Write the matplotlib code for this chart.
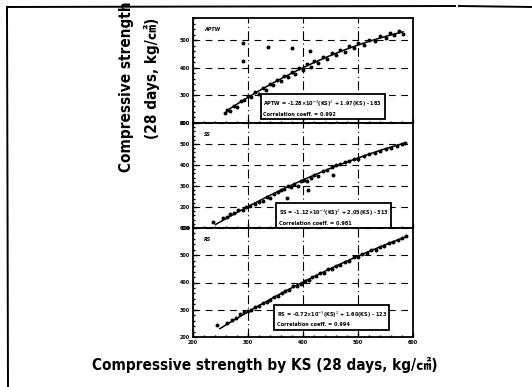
import numpy as np
import matplotlib.pyplot as plt
from matplotlib.lines import Line2D

# ---- data: 28-day strength by KS method vs. other test methods ----
ks_ticks = [200, 300, 400, 500, 600]

aptw_ks = [258, 262, 268, 275, 280, 287, 293, 300, 306, 313, 320, 327, 333, 340, 346,
           352, 360, 366, 372, 380, 386, 393, 400, 407, 414, 420, 428, 436, 444, 452,
           460, 468, 476, 484, 492, 500, 510, 520, 530, 540, 550, 558, 566, 574, 582,
           291, 291, 336, 380, 413]
aptw_val = [236, 248, 245, 262, 258, 280, 283, 298, 294, 312, 305, 326, 320, 341, 336,
            356, 352, 370, 366, 386, 377, 398, 392, 412, 404, 425, 418, 440, 432, 452,
            446, 466, 458, 478, 470, 490, 484, 502, 497, 516, 508, 525, 518, 532, 522,
            490, 425, 476, 472, 462]
aptw_fit = [-1.28e-3, 1.97, -183]
aptw_r = 0.992

ss_ks = [236, 255, 262, 268, 275, 282, 290, 297, 304, 312, 320, 327, 334, 340, 347,
         354, 360, 366, 372, 378, 384, 390, 396, 402, 408, 414, 420, 428, 436, 444,
         452, 460, 468, 476, 484, 492, 500, 510, 520, 530, 540, 550, 560, 570, 580, 586,
         371, 455, 409]
ss_val = [129, 150, 152, 165, 170, 186, 184, 200, 205, 214, 226, 230, 248, 244, 262,
          270, 282, 286, 300, 296, 310, 300, 322, 330, 325, 338, 352, 348, 370, 377,
          392, 400, 404, 414, 418, 430, 428, 442, 452, 458, 466, 478, 482, 490, 500, 506,
          243, 352, 281]
ss_fit = [-1.118e-3, 2.052, -313]
ss_r = 0.981

rs_ks = [244, 262, 270, 278, 286, 293, 300, 306, 313, 320, 327, 334, 340, 347, 354,
         361, 368, 375, 382, 389, 396, 403, 410, 417, 424, 431, 438, 445, 452, 460,
         468, 476, 484, 492, 500, 508, 516, 524, 532, 540, 548, 556, 564, 572, 580, 588]
rs_val = [244, 250, 262, 270, 283, 290, 296, 298, 310, 312, 324, 330, 336, 348, 352,
          362, 370, 374, 386, 388, 396, 404, 408, 420, 424, 434, 436, 448, 450, 460,
          466, 476, 480, 492, 494, 504, 508, 518, 520, 530, 534, 546, 548, 556, 562, 570]
rs_fit = [-7.23e-4, 1.601, -123]
rs_r = 0.994

panels = [
    ("APTW", aptw_ks, aptw_val, aptw_fit, aptw_r, (200, 580), [200, 300, 400, 500], (0.32, 0.07)),
    ("SS", ss_ks, ss_val, ss_fit, ss_r, (100, 600), [100, 200, 300, 400, 500, 600], (0.39, 0.03)),
    ("RS", rs_ks, rs_val, rs_fit, rs_r, (200, 600), [200, 300, 400, 500, 600], (0.38, 0.10)),
]

label_font = ['DejaVu Sans', 'Noto Sans CJK JP']
label_kw = dict(fontsize=11, fontweight='bold', fontstretch='condensed', family=label_font)

fig = plt.figure(figsize=(5.32, 3.87), dpi=100)

# frame around the whole figure (top and left edges only)
fig.add_artist(Line2D([7 / 532, 455 / 532], [1 - 7 / 387, 1 - 6 / 387], color='black', lw=1.4))
fig.add_artist(Line2D([459 / 532, 1.0], [1 - 6 / 387, 1 - 7 / 387], color='black', lw=1.4))
fig.add_artist(Line2D([7 / 532, 8 / 532], [1 - 7 / 387, 0.0], color='black', lw=1.4))

left, width = 193 / 532, 220 / 532
boxes = [(1 - 123 / 387, 105 / 387), (1 - 228 / 387, 105 / 387), (1 - 337 / 387, 109 / 387)]

for (name, xs, ys, fit, r, ylim, yt, boxpos), (bottom, height) in zip(panels, boxes):
    ax = fig.add_axes([left, bottom, width, height])
    ax.scatter(xs, ys, s=8, color='black', zorder=3, linewidths=0)
    a, b, c = fit
    xx = np.linspace(min(xs) + 5, max(xs), 100)
    ax.plot(xx, a * xx ** 2 + b * xx + c, color='black', lw=1.1, zorder=2)

    ax.set_xlim(200, 600)
    ax.set_ylim(*ylim)
    ax.set_xticks(ks_ticks)
    ax.set_yticks(yt)
    ax.set_yticklabels([str(v) for v in yt], fontsize=3.5, fontweight='bold')
    ax.minorticks_on()
    ax.tick_params(which='both', direction='in', width=1, length=3, pad=2)
    ax.tick_params(which='minor', length=1.5)
    ax.grid(True, axis='y', color='black', ls=(0, (6, 5)), lw=0.8)
    ax.grid(True, axis='x', color='black', ls=(0, (8, 3, 1, 3)), lw=0.8)
    for sp in ax.spines.values():
        sp.set_linewidth(1.3)

    ax.text(0.05, 0.88, name, transform=ax.transAxes, fontsize=3.5,
            fontweight='bold', fontstyle='italic')
    eq = (f"{name} = {a / 1e-3:.2f}\u00d710$^{{-3}}$(KS)$^2$ + {b:.2f}(KS) - {-c:.0f}\n"
          f"Correlation coeff. = {r:.3f}")
    ax.text(boxpos[0], boxpos[1], eq, transform=ax.transAxes, fontsize=3.6,
            fontweight='bold', linespacing=1.6, zorder=5,
            bbox=dict(boxstyle='square,pad=0.5', fc='white', ec='black', lw=1.3))

    if name != "RS":
        ax.set_xticklabels([])
    else:
        ax.set_xticklabels([str(v) for v in ks_ticks], fontsize=3.5, fontweight='bold')

fig.text(127 / 532, 1 - 87 / 387, "Compressive strength", rotation=90,
         ha='center', va='center', **label_kw)
fig.text(152 / 532, 1 - 78 / 387, "(28 days, kg/\u33a0)", rotation=90,
         ha='center', va='center', **label_kw)
fig.text(265 / 532, 1 - 365 / 387, "Compressive strength by KS (28 days, kg/\u33a0)",
         ha='center', va='center', **label_kw)

fig.savefig("out.png", dpi=100)
